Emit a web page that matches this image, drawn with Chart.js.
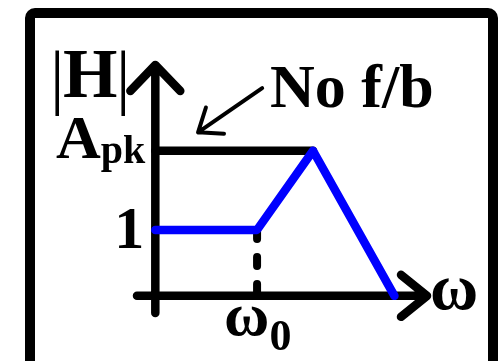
<!DOCTYPE html>
<html>
<head>
<meta charset="utf-8">
<script src="https://cdn.jsdelivr.net/npm/chart.js@4"></script>
<style>
  html, body { margin: 0; padding: 0; background: #fff; }
  canvas { display: block; }
</style>
</head>
<body>
<canvas id="bodePlot" width="500" height="361"></canvas>
<script>
// frequency axis (w0 = 1) and |H| values
const freq = [0, 1, 1.55, 2.35];
const magFb = [1, 1, 2.2, 0];
const freqNoFb = [0, 1.55];
const magNoFb = [2.2, 2.2];
const freqMarker = [1, 1];
const magMarker = [1, 0];
const yLabels = ['1', 'A', 'pk'];
const xLabels = ['ω', 'ω', '0'];
const noteText = 'No f/b';
const axisLabel = ['|', 'H', '|'];

const pts = (xs, ys) => xs.map((x, i) => ({ x: x, y: ys[i] }));

const serif = '"Liberation Serif", "Times New Roman", serif';

const sketchPlugin = {
    id: 'sketch',
    beforeDatasetsDraw(chart) {
        const ctx = chart.ctx;
        const x = chart.scales.x, y = chart.scales.y;
        const x0 = x.getPixelForValue(0), y0 = y.getPixelForValue(0);
        const xL = x.getPixelForValue(x.min), xR = x.getPixelForValue(x.max);
        const yT = y.getPixelForValue(y.max), yB = y.getPixelForValue(y.min);
        ctx.save();
        ctx.strokeStyle = '#000';
        ctx.lineWidth = 8.5;
        ctx.lineCap = 'round';
        ctx.lineJoin = 'round';
        ctx.beginPath();
        ctx.moveTo(xL, y0); ctx.lineTo(xR, y0);
        ctx.moveTo(x0, yB); ctx.lineTo(x0, yT);
        // arrow heads
        ctx.moveTo(xR - 26, y0 - 21); ctx.lineTo(xR, y0); ctx.lineTo(xR - 26, y0 + 21);
        ctx.moveTo(x0 - 25, yT + 26); ctx.lineTo(x0, yT); ctx.lineTo(x0 + 25, yT + 26);
        ctx.stroke();
        ctx.restore();
    },
    afterDraw(chart) {
        const ctx = chart.ctx;
        const x = chart.scales.x, y = chart.scales.y;
        const x0 = x.getPixelForValue(0), y0 = y.getPixelForValue(0);
        ctx.save();
        ctx.fillStyle = '#000';
        ctx.textBaseline = 'alphabetic';

        // y labels
        ctx.textAlign = 'right';
        ctx.font = 'bold 60px ' + serif;
        ctx.fillText(yLabels[0], x0 - 11, y.getPixelForValue(magFb[0]) + 18);
        ctx.font = 'bold 40px ' + serif;
        const yA = y.getPixelForValue(magNoFb[0]);
        ctx.fillText(yLabels[2], x0 - 10, yA + 12);
        const pkW = ctx.measureText(yLabels[2]).width;
        ctx.font = 'bold 62px ' + serif;
        ctx.fillText(yLabels[1], x0 - 10 - pkW, yA + 7);

        // |H|
        const yTop = y.getPixelForValue(y.max);
        ctx.textAlign = 'center';
        ctx.font = 'bold 70px ' + serif;
        ctx.fillText(axisLabel[1], x0 - 65, yTop + 32);
        ctx.font = '72px ' + serif;
        ctx.fillText(axisLabel[0], x0 - 98, yTop + 36);
        ctx.fillText(axisLabel[2], x0 - 32, yTop + 36);

        // omega at arrow
        ctx.textAlign = 'left';
        ctx.font = 'bold 66px ' + serif;
        ctx.fillText(xLabels[0], x.getPixelForValue(x.max) + 3, y0 + 13);

        // omega_0
        const xw = x.getPixelForValue(freqMarker[0]);
        ctx.font = 'bold 62px ' + serif;
        const wW = ctx.measureText(xLabels[1]).width;
        ctx.fillText(xLabels[1], xw - 33, y0 + 39);
        ctx.font = 'bold 44px ' + serif;
        ctx.fillText(xLabels[2], xw - 33 + wW, y0 + 54);

        // note with pointer
        ctx.font = 'bold 62px ' + serif;
        ctx.fillText(noteText, 270, 107);
        const tipX = x.getPixelForValue(0.42), tipY = y.getPixelForValue(2.48);
        const tailX = x.getPixelForValue(1.05), tailY = y.getPixelForValue(3.15);
        ctx.strokeStyle = '#000';
        ctx.lineWidth = 4;
        ctx.lineCap = 'round';
        ctx.beginPath();
        ctx.moveTo(tailX, tailY); ctx.lineTo(tipX, tipY);
        const ang = Math.atan2(tailY - tipY, tailX - tipX);
        for (const s of [-1, 1]) {
            ctx.moveTo(tipX, tipY);
            ctx.lineTo(tipX + 26 * Math.cos(ang + s * 0.66), tipY + 26 * Math.sin(ang + s * 0.66));
        }
        ctx.stroke();

        // frame
        ctx.lineWidth = 10;
        ctx.lineJoin = 'round';
        ctx.beginPath();
        ctx.roundRect(30, 13, 463, 356, 5);
        ctx.stroke();
        ctx.restore();
    }
};

new Chart(document.getElementById('bodePlot').getContext('2d'), {
    type: 'line',
    data: {
        datasets: [{
            label: 'with f/b',
            data: pts(freq, magFb),
            borderColor: '#0000ff',
            borderWidth: 8.5,
            borderCapStyle: 'round',
            borderJoinStyle: 'round',
            pointRadius: 0,
            tension: 0,
        }, {
            label: 'no f/b',
            data: pts(freqNoFb, magNoFb),
            borderColor: '#000',
            borderWidth: 8.5,
            borderCapStyle: 'round',
            pointRadius: 0,
        }, {
            label: 'w0',
            data: pts(freqMarker, magMarker),
            borderColor: '#000',
            borderWidth: 8,
            borderDash: [9, 18],
            borderCapStyle: 'round',
            pointRadius: 0,
        }]
    },
    options: {
        responsive: false,
        animation: false,
        devicePixelRatio: 1,
        layout: { padding: { left: 137, right: 73, top: 65, bottom: 48 } },
        plugins: { legend: { display: false }, tooltip: { enabled: false } },
        scales: {
            x: { type: 'linear', min: -0.18, max: 2.67, display: false },
            y: { type: 'linear', min: -0.26, max: 3.5, display: false }
        }
    },
    plugins: [sketchPlugin]
});
</script>
</body>
</html>
